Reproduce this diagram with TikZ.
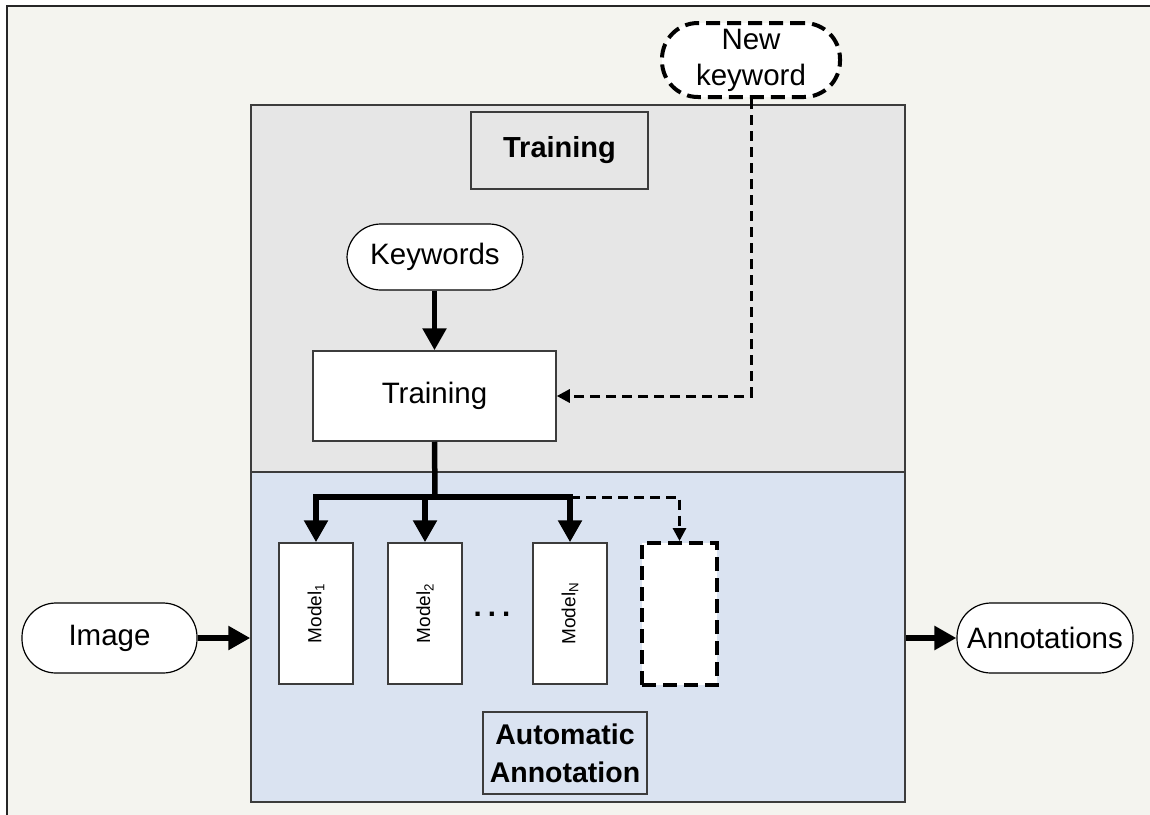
\documentclass[tikz,border=0pt]{standalone}
\usepackage{fontspec}
\setmainfont{Liberation Sans}
\usetikzlibrary{arrows.meta,calc}
\definecolor{paper}{HTML}{F4F4EF}
\definecolor{trainfill}{HTML}{E6E6E6}
\definecolor{annofill}{HTML}{DAE3F1}
\definecolor{edge}{HTML}{3C3C3C}
\tikzset{
  every node/.style={inner sep=0pt, align=center, font=\fontsize{29.5}{34}\selectfont},
  region/.style={draw=edge, line width=1.5pt},
  box/.style={draw=edge, line width=1.5pt, fill=white},
  pill/.style={draw=black, line width=1.2pt, fill=white, rounded corners=34pt},
  modelbox/.style={box, minimum width=74pt, minimum height=141pt, font=\fontsize{19}{22}\selectfont},
  fat/.style={line width=5.5pt, line join=miter, -{Triangle[length=22pt,width=23pt]}},
  fatline/.style={line width=5.5pt},
  dasharrow/.style={line width=3pt, dash pattern=on 10pt off 6pt, -{Triangle[length=13pt,width=13pt]}},
  dashbox/.style={draw=black, line width=4pt, dash pattern=on 14pt off 7pt, fill=white}
}
\begin{document}
\begin{tikzpicture}[x=1pt,y=-1pt]
  % page and outer frame
  \fill[white] (0,0) rectangle (1150,814);
  \useasboundingbox (0,0) rectangle (1150,814);
  \fill[paper] (7,6) rectangle (1170,834);
  \draw[line width=2.2pt, black!85] (7,840) -- (7,6) -- (1170,6);

  % the two stages
  \node[region, fill=trainfill, minimum width=654pt, minimum height=367pt] (trainreg) at (578,288.5) {};
  \node[region, fill=annofill, minimum width=654pt, minimum height=330pt] (annreg) at (578,637) {};

  % stage titles
  \node[region, fill=trainfill, minimum width=177pt, minimum height=77pt,
        font=\bfseries\fontsize{29}{34}\selectfont] (ttl) at (559.5,150.5) {Training};
  \node[region, fill=annofill, minimum width=164pt, minimum height=82pt,
        font=\bfseries\fontsize{28.5}{38}\selectfont] (atl) at (565,753) {Automatic\\Annotation};

  % training stage
  \node[pill, minimum width=176pt, minimum height=66pt] (kw) at (435,257) {Keywords};
  \node[box, minimum width=243pt, minimum height=90pt] (train) at (434.5,396) {Training};
  \node[pill, dashbox, rounded corners=36pt, minimum width=178pt, minimum height=74pt,
        font=\fontsize{29.5}{36}\selectfont] (newkw) at (751,60) {New\\keyword};

  % models
  \node[modelbox] (m1) at (316,613.5) {\rotatebox{90}{Model\textsubscript{1}}};
  \node[modelbox] (m2) at (425,613.5) {\rotatebox{90}{Model\textsubscript{2}}};
  \node[modelbox] (mN) at (570,613.5) {\rotatebox{90}{Model\textsubscript{N}}};
  \node[dashbox, minimum width=75pt, minimum height=142pt] (mX) at (679.5,614) {};
  \node[anchor=base, font=\bfseries\fontsize{29.5}{34}\selectfont] (dots) at (492,616) {.\hspace{6pt}.\hspace{6pt}.};

  % input and output
  \node[pill, minimum width=175pt, minimum height=70pt] (img) at (109.5,638) {Image};
  \node[pill, minimum width=176pt, minimum height=70pt] (ann) at (1045,638) {Annotations};

  % connectors
  \coordinate (fork) at (435,497);
  \draw[fat] (train.north |- kw.south) -- (train.north);
  \draw[fatline] (train.south) -- (fork);
  \draw[fat] (fork) -| (m1.north);
  \draw[fat] (fork) -| (m2.north);
  \draw[fat] (fork) -| (mN.north);
  \draw[dasharrow] (mN.north |- fork) -| (mX.north);
  \draw[dasharrow] (newkw.south) |- (train.east);
  \draw[fat] (img.east) -- (img.east -| annreg.west);
  \draw[fat] (ann.west -| annreg.east) -- (ann.west);
\end{tikzpicture}
\end{document}
